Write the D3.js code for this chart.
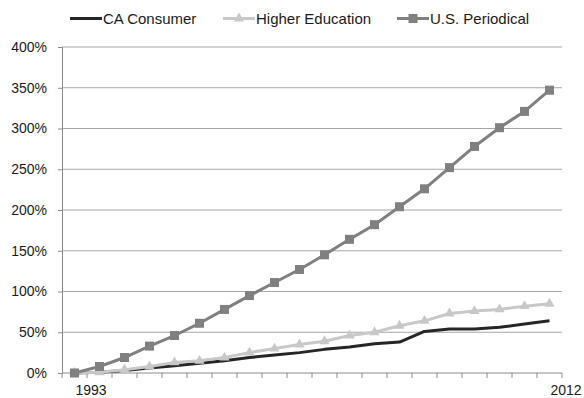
<!DOCTYPE html>
<html><head><meta charset="utf-8">
<script src="https://cdn.jsdelivr.net/npm/d3@7"></script>
<style>body{margin:0;background:#fff;}svg{display:block;font-family:"Liberation Sans",Arial,sans-serif;}</style>
</head><body><svg id="c" width="584" height="398"></svg>
<script>
const years = [1993,1994,1995,1996,1997,1998,1999,2000,2001,2002,2003,2004,2005,2006,2007,2008,2009,2010,2011,2012];
const caConsumer = [0,1,3,6,9,12,15,19,22,25,29,32,36,38,51,54,54,56,60,64];
const higherEducation = [0,1,4,8,13,15,19,25,30,35,39,46,50,58,64,73,76,78,82,85];
const usPeriodical = [0,8,19,33,46,61,78,95,111,127,145,164,182,204,226,252,278,301,321,347];
const yTicks = [0,50,100,150,200,250,300,350,400];
const xLabels = ["1993","2012"];
const seriesNames = ["CA Consumer","Higher Education","U.S. Periodical"];

const svg = d3.select("#c");
const L=62, R=562, T=47, B=373;
const x = d3.scaleBand().domain(years).range([L,R]);
const y = d3.scaleLinear().domain([0,400]).range([B,T]);

// gridlines
svg.append("g").selectAll("line").data(yTicks.filter(d=>d>0)).join("line")
  .attr("x1",L).attr("x2",R).attr("y1",d=>y(d)).attr("y2",d=>y(d))
  .attr("stroke","#a6a6a6").attr("stroke-width",1);

// y axis
const ya = svg.append("g").attr("transform",`translate(${L},0)`)
  .call(d3.axisLeft(y).tickValues(yTicks).tickFormat(d=>d+"%").tickSize(4).tickPadding(11));
ya.select(".domain").attr("stroke","#8c8c8c");
ya.selectAll(".tick line").attr("stroke","#8c8c8c");
ya.selectAll("text").attr("font-size",14).attr("fill","#1a1a1a").attr("font-family","Liberation Sans, Arial, sans-serif");

// x axis: ticks at band boundaries
const xa = svg.append("g").attr("transform",`translate(0,${B})`);
xa.append("line").attr("x1",L).attr("x2",R).attr("stroke","#8c8c8c");
const bounds = [x(years[0])].concat(years.map(d=>x(d)+x.bandwidth()));
xa.selectAll("line.tk").data(bounds).join("line").attr("class","tk")
  .attr("x1",d=>d).attr("x2",d=>d).attr("y1",0).attr("y2",5).attr("stroke","#8c8c8c");
xa.selectAll("text").data(xLabels).join("text")
  .attr("x",d=>x(+d)+x.bandwidth()+4).attr("y",22)
  .attr("text-anchor","middle").attr("font-size",14).attr("fill","#1a1a1a").text(d=>d);

const line = d3.line().x((d,i)=>x(years[i])+x.bandwidth()/2).y(d=>y(d));
const colors = ["#262626","#c8c8c8","#808080"];
const data = [caConsumer, higherEducation, usPeriodical];

[0,1,2].forEach(k=>{
  svg.append("path").datum(data[k]).attr("d",line).attr("fill","none")
    .attr("stroke",colors[k]).attr("stroke-width",3).attr("stroke-linejoin","round");
  if(k===2){
    svg.append("g").selectAll("rect").data(data[k]).join("rect")
      .attr("x",(d,i)=>x(years[i])+x.bandwidth()/2-4.5).attr("y",d=>y(d)-4.5)
      .attr("width",9).attr("height",9).attr("fill",colors[k]);
  }
  if(k===1){
    const tri = d3.symbol().type(d3.symbolTriangle).size(45);
    svg.append("g").selectAll("path").data(data[k]).join("path")
      .attr("transform",(d,i)=>`translate(${x(years[i])+x.bandwidth()/2},${y(d)})`)
      .attr("d",tri).attr("fill",colors[k]);
  }
});

// legend
const leg = [{x:70,tx:102},{x:223,tx:255},{x:397,tx:429}];
leg.forEach((p,k)=>{
  const g = svg.append("g");
  g.append("line").attr("x1",p.x).attr("x2",p.tx).attr("y1",18.5).attr("y2",18.5)
    .attr("stroke",colors[k]).attr("stroke-width",3);
  const cx=(p.x+p.tx)/2;
  if(k===2) g.append("rect").attr("x",cx-4.5).attr("y",14).attr("width",9).attr("height",9).attr("fill",colors[k]);
  if(k===1) g.append("path").attr("transform",`translate(${cx},18.5)`).attr("d",d3.symbol().type(d3.symbolTriangle).size(45)).attr("fill",colors[k]);
  g.append("text").attr("x",p.tx+1).attr("y",24).attr("font-size",15).attr("fill","#1a1a1a").text(seriesNames[k]);
});
</script></body></html>
